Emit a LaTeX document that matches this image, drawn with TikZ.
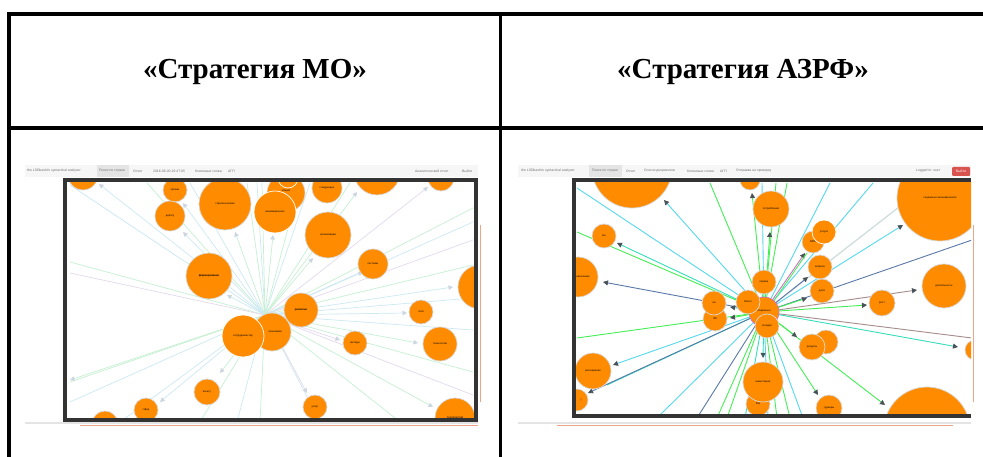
\documentclass[tikz,border=0pt]{standalone}
\usepackage{fontspec}
\setmainfont{Liberation Serif}
\newfontfamily\uisans{Liberation Sans}
\usetikzlibrary{arrows.meta,calc}
\definecolor{nodeor}{HTML}{FF8C00}
\definecolor{circgray}{HTML}{D8D8D8}
\definecolor{framegray}{HTML}{333333}
\definecolor{navbg}{HTML}{F6F6F6}
\definecolor{navtab}{HTML}{E4E4E4}
\definecolor{navtxt}{HTML}{707070}
\definecolor{salmon}{HTML}{EBA58A}
\definecolor{fgreen}{HTML}{C6F0D2}
\definecolor{fcyan}{HTML}{CDE9F3}
\definecolor{flav}{HTML}{E3D9EE}
\definecolor{arrlight}{HTML}{CDD6E0}
\definecolor{cyanL}{HTML}{55D8EE}
\definecolor{greenL}{HTML}{44EE55}
\definecolor{blueD}{HTML}{5A78A8}
\definecolor{brownL}{HTML}{A58C8C}
\definecolor{tealL}{HTML}{35DDBB}
\definecolor{pinkL}{HTML}{D070C8}
\definecolor{lgrayL}{HTML}{CFDDDD}
\definecolor{arrdark}{HTML}{4A525A}
\definecolor{btnred}{HTML}{D9534F}
\tikzset{
  circ/.style={circle, fill=nodeor, draw=circgray, line width=0.7pt, inner sep=0pt,
    font=\uisans\fontsize{2.7}{3}\selectfont, text=black},
  wcirc/.style={circ, draw=white},
  pcirc/.style={circ, draw=pinkL},
  navtext/.style={font=\uisans\fontsize{3.4}{4}\selectfont, text=navtxt, inner sep=0pt, anchor=west},
  header/.style={font=\bfseries\fontsize{29}{32}\selectfont, inner sep=0pt},
  tabline/.style={line width=3.6pt, black},
  fl/.style={line width=0.7pt},
  fla/.style={line width=0.7pt, -{Triangle[length=4.5pt,width=4.5pt,color=arrlight]}},
  rl/.style={line width=0.9pt},
  rla/.style={line width=0.9pt, -{Triangle[length=5pt,width=5pt,color=arrdark]}}
}
\begin{document}
\begin{tikzpicture}[x=1pt,y=-1pt]
\useasboundingbox[fill=white] (0,0) rectangle (983,457);

% ---------- table ----------
\draw[tabline] (7.2,14) -- (983,14);
\draw[tabline] (7.2,128) -- (983,128);
\draw[tabline] (9,12.2) -- (9,457);
\draw[tabline] (500.5,12.2) -- (500.5,457);
\node[header] (h1) at (255,72) {«Стратегия МО»};
\node[header] (h2) at (743,72) {«Стратегия АЗРФ»};

% ================= LEFT SCREENSHOT =================
\fill[navbg] (25,165) rectangle (478,177);
\fill[navtab] (97,165) rectangle (129,177);
\node[navtext] (ln1) at (27,171) {the LSDbasht's syntactical analyzer};
\node[navtext] (ln2) at (99,171) {Поиск по стране};
\node[navtext] (ln3) at (133,171) {Отчет};
\node[navtext] (ln4) at (153,171) {2016-06-20-16:47:05};
\node[navtext] (ln5) at (195,171) {Ключевые слова};
\node[navtext] (ln6) at (228,171) {АГП};
\node[navtext] (ln7) at (415,171) {Аналитический отчет};
\node[navtext] (ln8) at (462,171) {Выйти};
\fill[white] (63,178) rectangle (478,422);
\begin{scope}
\clip (67,182) rectangle (474,418);
\coordinate (cL) at (265,315);
\foreach \ex/\ey/\st in {70/185/fcyan, 70/262/fgreen, 70/273/flav, 70/382/fgreen, 70/402/fcyan,
   147/183/fgreen, 247/183/fgreen, 257/183/fcyan, 262/183/fgreen, 300/183/fgreen, 310/183/fcyan,
   473/208/fgreen, 473/222/fcyan, 473/265/fgreen, 473/298/fcyan, 473/372/fgreen, 473/395/flav,
   320/422/fcyan, 260/422/fgreen, 237/422/fcyan, 200/422/fgreen, 120/422/fcyan, 400/422/fgreen,
   473/330/fcyan, 473/240/flav, 350/183/fgreen, 190/183/fcyan}
  \draw[fl, \st] (cL) -- (\ex,\ey);
\foreach \ex/\ey/\st in {99/184/fcyan, 183/203/fcyan, 183/232/fcyan, 235/232/fgreen, 273/235/fgreen,
   357/192/fgreen, 428/187/flav, 363/272/fcyan, 453/287/fcyan, 407/313/fcyan, 340/340/flav,
   418/343/fgreen, 433/407/fgreen, 307/393/flav, 220/373/fgreen, 160/402/fcyan, 227/295/fcyan,
   313/258/fgreen, 70/380/fgreen}
  \draw[fla, \st] (cL) -- (\ex,\ey);
\node[circ, minimum size=30pt] (L1) at (83,175) {};
\node[circ, minimum size=24pt] (L2) at (175,190) {органы};
\node[circ, minimum size=30pt] (L3) at (170,216) {дорогу};
\node[circ, minimum size=52pt] (L4) at (225,204) {стратегическая};
\node[circ, minimum size=38pt] (L5) at (286,193) {\raisebox{5pt}{общей}};
\node[wcirc, minimum size=20pt] (L5b) at (288,178) {};
\node[wcirc, minimum size=42pt] (L6) at (275,212) {инновационное};
\node[circ, minimum size=30pt] (L7) at (327,188) {следующее};
\node[circ, minimum size=46pt] (L8) at (377,172) {};
\node[circ, minimum size=26pt] (L9) at (441,178) {};
\node[circ, minimum size=46pt] (L10) at (328,235) {организации};
\node[circ, minimum size=30pt] (L11) at (373,264) {системы};
\node[circ, minimum size=46pt] (L12) at (209,276) {\textbf{формирование}};
\node[circ, minimum size=44pt] (L13) at (480,287) {отрасли\hspace{14pt}};
\node[circ, minimum size=34pt] (L14) at (301,310) {\textbf{развитие}};
\node[circ, minimum size=24pt] (L15) at (421,312) {сети};
\node[circ, minimum size=38pt] (L17) at (272,332) {\hspace{6pt}экономики};
\node[wcirc, minimum size=42pt] (L16) at (243,336) {сотрудничеству};
\node[circ, minimum size=24pt] (L18) at (355,343) {методы};
\node[circ, minimum size=34pt] (L19) at (440,344) {технологии};
\node[circ, minimum size=26pt] (L20) at (207,392) {агенту};
\node[circ, minimum size=24pt] (L21) at (146,410) {сфер};
\node[circ, minimum size=26pt] (L22) at (105,424) {};
\node[circ, minimum size=24pt] (L23) at (315,407) {услуг};
\node[circ, minimum size=40pt] (L24) at (455,418) {\raisebox{-1pt}{предприятий}};
\end{scope}
\draw[framegray, line width=4pt] (65,180) rectangle (476,420);
\draw[navtab, line width=2pt] (25,423) -- (478,423);
\draw[salmon, line width=0.8pt] (80,425.5) -- (478,425.5);
\draw[salmon, line width=0.8pt] (480.5,225) -- (480.5,402);

% ================= RIGHT SCREENSHOT =================
\fill[navbg] (518,165) rectangle (971,177);
\fill[navtab] (589,165) rectangle (622,177);
\node[navtext] (rn1) at (521,171) {the LSDbasht's syntactical analyzer};
\node[navtext] (rn2) at (592,171) {Поиск по стране};
\node[navtext] (rn3) at (626,171) {Отчет};
\node[navtext] (rn4) at (644,171) {Список документов};
\node[navtext] (rn5) at (687,171) {Ключевые слова};
\node[navtext] (rn6) at (720,171) {АГП};
\node[navtext] (rn7) at (736,171) {Отправка на проверку};
\node[navtext] (rn8) at (916,171) {Logged in: user};
\fill[btnred, rounded corners=1pt] (952,167) rectangle (970,176);
\node[font=\uisans\fontsize{3.4}{4}\selectfont, text=white, inner sep=0pt] (rn9) at (961,171.5) {Выйти};
\fill[white] (572,178) rectangle (971,418);
\begin{scope}
\clip (576,182) rectangle (971,414);
\coordinate (cR) at (764,312);
\foreach \ex/\ey/\st in {577/188/cyanL, 710/183/greenL, 762/183/cyanL, 776/183/greenL, 787/183/greenL,
   830/183/cyanL, 873/183/cyanL, 972/240/blueD, 972/338/brownL, 803/418/cyanL, 777/418/greenL,
   768/418/cyanL, 727/418/greenL, 717/418/greenL, 697/418/blueD, 657/418/cyanL, 577/338/greenL,
   607/385/tealL, 577/232/greenL, 745/418/tealL, 790/418/greenL}
  \draw[rl, \st] (cR) -- (\ex,\ey);
\draw[line width=1.3pt, lgrayL] (cR) -- (930,183);
\foreach \ex/\ey/\st in {664/200/cyanL, 752/193/greenL, 770/232/greenL, 903/225/cyanL, 805/253/pinkL,
   808/277/blueD, 807/298/greenL, 917/290/brownL, 867/305/greenL, 958/347/tealL, 885/405/greenL,
   797/337/greenL, 818/395/greenL, 763/358/tealL, 603/282/blueD, 613/365/cyanL, 588/393/blueD,
   617/243/tealL, 730/307/tealL, 730/318/greenL}
  \draw[rla, \st] (cR) -- (\ex,\ey);
\draw[rl, greenL] ($(cR)+(2,0)$) -- (807,253);
\node[circ, minimum size=80pt] (R1) at (632,168) {};
\node[circ, minimum size=20pt] (R2) at (750,180) {};
\node[circ, minimum size=36pt] (R3) at (771,209) {потребления};
\node[circ, minimum size=86pt] (R4) at (940,198) {социально-экономическое};
\node[circ, minimum size=24pt] (R5) at (604,236) {мл};
\node[circ, minimum size=40pt] (R6) at (578,277) {\hspace{10pt}население};
\node[circ, minimum size=22pt] (R7a) at (813,242) {ВВП};
\node[wcirc, minimum size=24pt] (R7b) at (824,232) {услуги};
\node[circ, minimum size=24pt] (R8) at (820,267) {затраты};
\node[circ, minimum size=24pt] (R9) at (764,282) {первое};
\node[circ, minimum size=24pt] (R10) at (822,291) {доля};
\node[circ, minimum size=44pt] (R11) at (944,286) {деятельность};
\node[circ, minimum size=26pt] (R12) at (882,303) {рост};
\node[circ, minimum size=24pt] (R13b) at (715,319) {ЭЛ};
\node[circ, minimum size=24pt] (R13a) at (714,303) {на};
\node[pcirc, minimum size=30pt] (R15) at (764,312) {\raisebox{3pt}{социально}};
\node[circ, minimum size=24pt] (R14) at (748,302) {Налог};
\node[circ, minimum size=24pt] (R16) at (767,326) {сегодня};
\node[circ, minimum size=24pt] (R17b) at (826,342) {};
\node[circ, minimum size=26pt] (R17a) at (812,347) {ресурсы};
\node[circ, minimum size=20pt] (R18) at (975,350) {};
\node[circ, minimum size=36pt] (R19) at (593,371) {расширение};
\node[circ, minimum size=22pt] (R20) at (577,400) {\hspace{8pt})};
\node[circ, minimum size=24pt] (R21b) at (758,404) {ВЦ};
\node[circ, minimum size=40pt] (R21a) at (763,382) {инвестиции};
\node[circ, minimum size=26pt] (R22) at (829,408) {турнеры};
\node[circ, minimum size=86pt] (R23) at (927,430) {};
\end{scope}
\draw[framegray, line width=4pt] (971,180) -- (574,180) -- (574,416) -- (971,416);
\draw[navtab, line width=2pt] (518,423) -- (971,423);
\draw[salmon, line width=0.8pt] (557,425.5) -- (953,425.5);
\draw[salmon, line width=0.8pt] (973.5,225) -- (973.5,402);
\end{tikzpicture}
\end{document}
